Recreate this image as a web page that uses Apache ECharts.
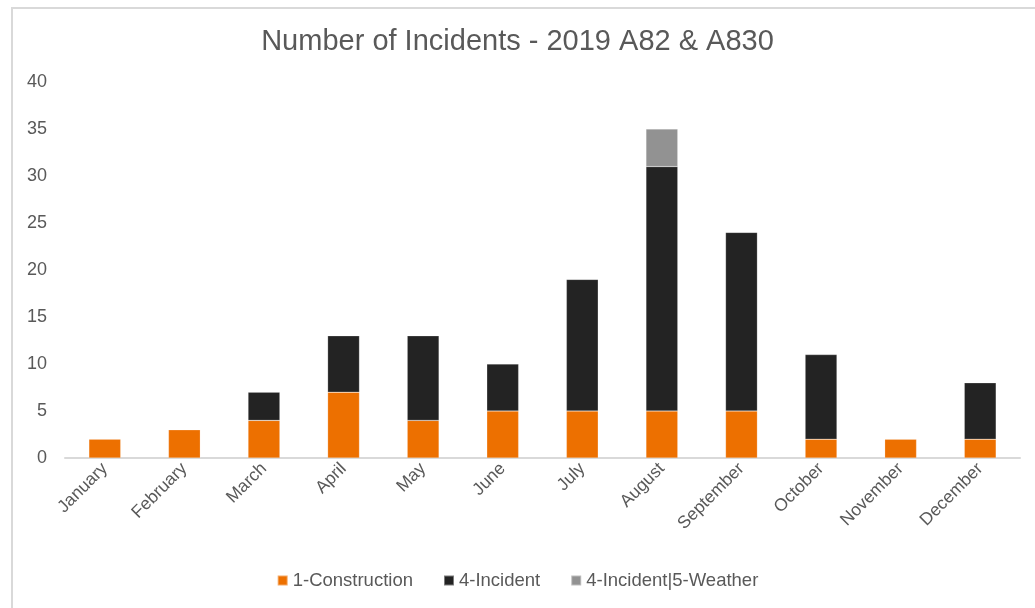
<!DOCTYPE html>
<html><head><meta charset="utf-8">
<script src="https://cdn.jsdelivr.net/npm/echarts@6/dist/echarts.min.js"></script>
<style>html,body{margin:0;padding:0;background:#fff;}#c{width:1035px;height:608px;}</style>
</head><body><div id="c"></div>
<script>
const months = ['January','February','March','April','May','June','July','August','September','October','November','December'];
const construction = [2,3,4,7,4,5,5,5,5,2,2,2];
const incident = [0,0,3,6,9,5,14,26,19,9,0,6];
const incidentWeather = [0,0,0,0,0,0,0,4,0,0,0,0];
const seriesNames = ['1-Construction','4-Incident','4-Incident|5-Weather'];
const colors = ['#ED7000','#232323','#929292'];
const font = 'Liberation Sans, Arial, sans-serif';
const chart = echarts.init(document.getElementById('c'));
const mk = (name, data, color) => ({
  name, type:'bar', stack:'a', data: data.map(v => v === 0 ? null : v), barWidth:'40%',
  itemStyle:{color, borderColor:'rgba(255,255,255,0.4)', borderWidth:0.5}
});
chart.setOption({
  animation:false,
  graphic:[{type:'rect', shape:{x:12,y:8,width:1100,height:700}, style:{fill:'none', stroke:'#d9d9d9', lineWidth:2}, z:-1}],
  title:{text:'Number of Incidents - 2019 A82 & A830', left:'center', top:22,
    textStyle:{fontFamily:font, fontSize:29, fontWeight:'normal', color:'#595959'}},
  legend:{bottom:13, left:'center', itemWidth:10, itemHeight:10, itemGap:30, icon:'rect',
    textStyle:{fontFamily:font, fontSize:18.5, color:'#595959'}, data:seriesNames},
  grid:{left:65, right:15, top:82, bottom:150},
  xAxis:{type:'category', data:months,
    axisLine:{lineStyle:{color:'#d9d9d9', width:2}}, axisTick:{show:false},
    axisLabel:{rotate:45, fontFamily:font, fontSize:17.5, color:'#595959', interval:0, margin:8, padding:[0,0,0,0], align:'right', verticalAlign:'middle', offset:[0,0]}},
  yAxis:{type:'value', min:0, max:40, interval:5,
    axisLine:{show:false}, axisTick:{show:false}, splitLine:{show:false},
    axisLabel:{fontFamily:font, fontSize:18, color:'#595959', margin:18}},
  series:[mk(seriesNames[0], construction, colors[0]), mk(seriesNames[1], incident, colors[1]), mk(seriesNames[2], incidentWeather, colors[2])]
});
</script></body></html>
